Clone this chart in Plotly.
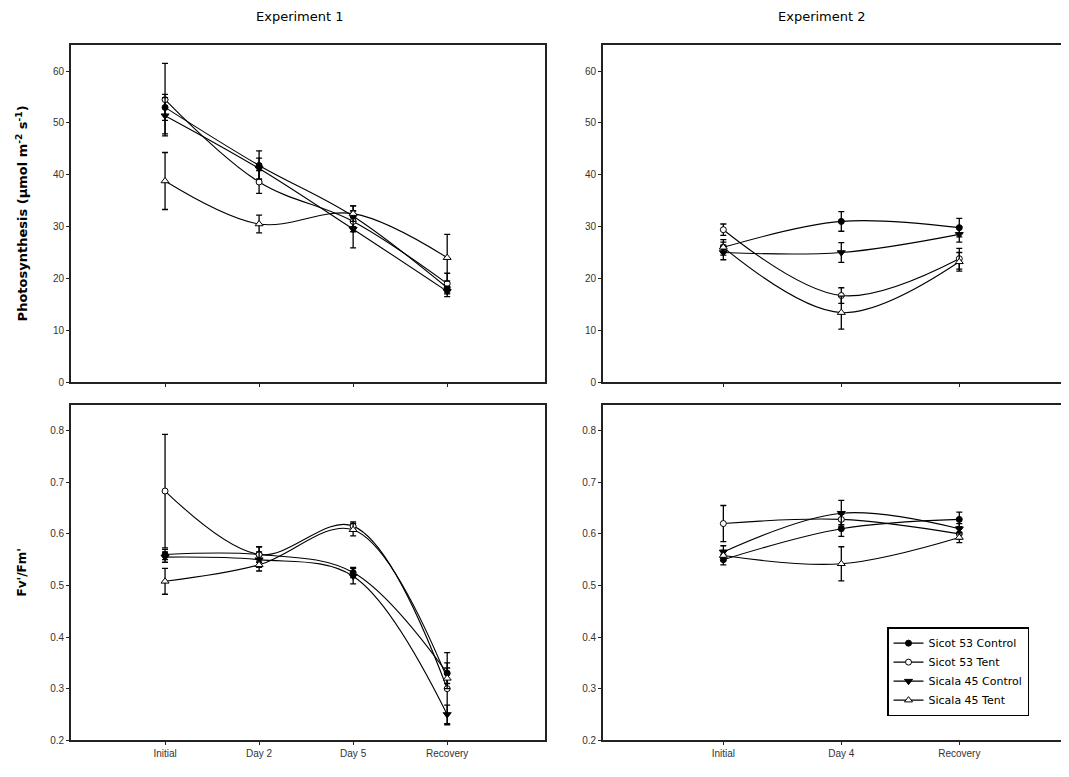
import plotly.graph_objects as go

# ---------------- data ----------------
series_names = ["Sicot 53 Control", "Sicot 53 Tent", "Sicala 45 Control", "Sicala 45 Tent"]

exp1_days = ["Initial", "Day 2", "Day 5", "Recovery"]
exp2_days = ["Initial", "Day 4", "Recovery"]

# Photosynthesis, Experiment 1
ps1_sicot53_control = [53.0, 41.8, 32.0, 18.2]
ps1_sicot53_control_err = [2.5, 2.8, 2.0, 1.0]
ps1_sicot53_tent = [54.5, 38.6, 31.0, 19.0]
ps1_sicot53_tent_err = [7.0, 2.2, 2.0, 2.0]
ps1_sicala45_control = [51.4, 41.2, 29.5, 17.5]
ps1_sicala45_control_err = [3.5, 2.0, 3.6, 1.0]
ps1_sicala45_tent = [38.8, 30.5, 32.5, 24.0]
ps1_sicala45_tent_err = [5.5, 1.7, 1.5, 4.5]

# Photosynthesis, Experiment 2
ps2_sicot53_control = [26.0, 31.0, 29.8]
ps2_sicot53_control_err = [1.0, 1.9, 1.8]
ps2_sicot53_tent = [29.4, 16.7, 23.8]
ps2_sicot53_tent_err = [1.1, 1.5, 2.0]
ps2_sicala45_control = [25.0, 25.0, 28.5]
ps2_sicala45_control_err = [1.4, 1.9, 1.5]
ps2_sicala45_tent = [26.0, 13.4, 23.2]
ps2_sicala45_tent_err = [1.5, 3.2, 1.8]

# Fv'/Fm', Experiment 1
fv1_sicot53_control = [0.560, 0.560, 0.525, 0.330]
fv1_sicot53_control_err = [0.010, 0.015, 0.010, 0.020]
fv1_sicot53_tent = [0.683, 0.560, 0.615, 0.300]
fv1_sicot53_tent_err = [0.110, 0.015, 0.008, 0.070]
fv1_sicala45_control = [0.555, 0.550, 0.518, 0.250]
fv1_sicala45_control_err = [0.010, 0.015, 0.015, 0.018]
fv1_sicala45_tent = [0.508, 0.540, 0.608, 0.320]
fv1_sicala45_tent_err = [0.025, 0.012, 0.012, 0.020]

# Fv'/Fm', Experiment 2
fv2_sicot53_control = [0.550, 0.610, 0.628]
fv2_sicot53_control_err = [0.010, 0.015, 0.014]
fv2_sicot53_tent = [0.620, 0.628, 0.600]
fv2_sicot53_tent_err = [0.035, 0.010, 0.010]
fv2_sicala45_control = [0.565, 0.640, 0.610]
fv2_sicala45_control_err = [0.012, 0.025, 0.010]
fv2_sicala45_tent = [0.558, 0.542, 0.593]
fv2_sicala45_tent_err = [0.010, 0.033, 0.010]

# ---------------- styles ----------------
marker_styles = [
    dict(symbol="circle", size=6, color="black", line=dict(color="black", width=1)),
    dict(symbol="circle", size=6, color="white", line=dict(color="black", width=1)),
    dict(symbol="triangle-down", size=7, color="black", line=dict(color="black", width=1)),
    dict(symbol="triangle-up", size=7, color="white", line=dict(color="black", width=1)),
]

FONT = "Liberation Sans, Arial, sans-serif"
WIDE = "DejaVu Sans, Verdana, sans-serif"

# the page body has an 8px margin; figure is sized to the remaining window
OFF = 8
W, H = 1069 - OFF, 777 - OFF


def px(sx):
    return (sx - OFF) / W


def py(sy):
    return 1 - (sy - OFF) / H


fig = go.Figure()

panels = [
    ("x", "y", exp1_days,
     [ps1_sicot53_control, ps1_sicot53_tent, ps1_sicala45_control, ps1_sicala45_tent],
     [ps1_sicot53_control_err, ps1_sicot53_tent_err, ps1_sicala45_control_err, ps1_sicala45_tent_err], False),
    ("x2", "y2", exp2_days,
     [ps2_sicot53_control, ps2_sicot53_tent, ps2_sicala45_control, ps2_sicala45_tent],
     [ps2_sicot53_control_err, ps2_sicot53_tent_err, ps2_sicala45_control_err, ps2_sicala45_tent_err], False),
    ("x3", "y3", exp1_days,
     [fv1_sicot53_control, fv1_sicot53_tent, fv1_sicala45_control, fv1_sicala45_tent],
     [fv1_sicot53_control_err, fv1_sicot53_tent_err, fv1_sicala45_control_err, fv1_sicala45_tent_err], False),
    ("x4", "y4", exp2_days,
     [fv2_sicot53_control, fv2_sicot53_tent, fv2_sicala45_control, fv2_sicala45_tent],
     [fv2_sicot53_control_err, fv2_sicot53_tent_err, fv2_sicala45_control_err, fv2_sicala45_tent_err], True),
]

for xa, ya, cats, vals, errs, show in panels:
    for i, name in enumerate(series_names):
        fig.add_trace(go.Scatter(
            x=cats, y=vals[i], name=name, xaxis=xa, yaxis=ya,
            mode="lines+markers",
            line=dict(color="black", width=1.1, shape="spline", smoothing=1.0),
            marker=marker_styles[i],
            error_y=dict(type="data", array=errs[i], color="black", thickness=1.3, width=3),
            showlegend=show,
        ))

line_col = "#222222"
tickfont = dict(family=FONT, size=10, color="#333333")
common_x = dict(type="category", showline=True, linecolor=line_col, linewidth=1.8,
                ticks="outside", ticklen=3, tickcolor=line_col, showgrid=False, zeroline=False,
                tickfont=tickfont, mirror=True)
common_y = dict(showline=True, linecolor=line_col, linewidth=1.8, ticks="outside", ticklen=3,
                tickcolor=line_col, showgrid=False, zeroline=False, tickfont=tickfont)

xl = [px(71), px(545)]
xr = [px(603), 1.0]
yt = [py(385), py(45.5)]
yb = [py(746), py(408)]

fig.update_layout(
    width=W, height=H, autosize=False,
    margin=dict(l=0, r=0, t=0, b=0),
    paper_bgcolor="white", plot_bgcolor="white",
    font=dict(family=FONT, color="black"),
    xaxis=dict(common_x, domain=xl, anchor="y", range=[-1.0, 4.04], showticklabels=False),
    yaxis=dict(common_y, domain=yt, anchor="x", range=[0, 65], tickvals=[0, 10, 20, 30, 40, 50, 60], mirror=True),
    xaxis2=dict(common_x, domain=xr, anchor="y2", range=[-1.02, 2.93], showticklabels=False),
    yaxis2=dict(common_y, domain=yt, anchor="x2", range=[0, 65], tickvals=[0, 10, 20, 30, 40, 50, 60]),
    xaxis3=dict(common_x, domain=xl, anchor="y3", range=[-1.0, 4.04]),
    yaxis3=dict(common_y, domain=yb, anchor="x3", range=[0.2, 0.85],
                tickvals=[0.2, 0.3, 0.4, 0.5, 0.6, 0.7, 0.8], mirror=True),
    xaxis4=dict(common_x, domain=xr, anchor="y4", range=[-1.02, 2.93]),
    yaxis4=dict(common_y, domain=yb, anchor="x4", range=[0.2, 0.85],
                tickvals=[0.2, 0.3, 0.4, 0.5, 0.6, 0.7, 0.8]),
    legend=dict(x=px(887), y=py(632), xanchor="left", yanchor="top",
                bordercolor="black", borderwidth=1.5, bgcolor="white",
                font=dict(family=WIDE, size=11, color="black"),
                itemwidth=30, tracegroupgap=0),
    annotations=[
        dict(text="Experiment 1", x=px(300), y=py(17), xref="paper", yref="paper",
             xanchor="center", yanchor="middle",
             showarrow=False, font=dict(family=WIDE, size=13, color="black")),
        dict(text="Experiment 2", x=px(822), y=py(17), xref="paper", yref="paper",
             xanchor="center", yanchor="middle",
             showarrow=False, font=dict(family=WIDE, size=13, color="black")),
        dict(text="<b>Photosynthesis (µmol m<sup>-2</sup> s<sup>-1</sup>)</b>", x=px(22), y=py(215),
             xref="paper", yref="paper", textangle=-90, showarrow=False,
             xanchor="center", yanchor="middle",
             font=dict(family=WIDE, size=13, color="black")),
        dict(text="<b>Fv'/Fm'</b>", x=px(22), y=py(577),
             xref="paper", yref="paper", textangle=-90, showarrow=False,
             xanchor="center", yanchor="middle",
             font=dict(family=WIDE, size=12, color="black")),
    ],
)

fig.write_html("out.html")
